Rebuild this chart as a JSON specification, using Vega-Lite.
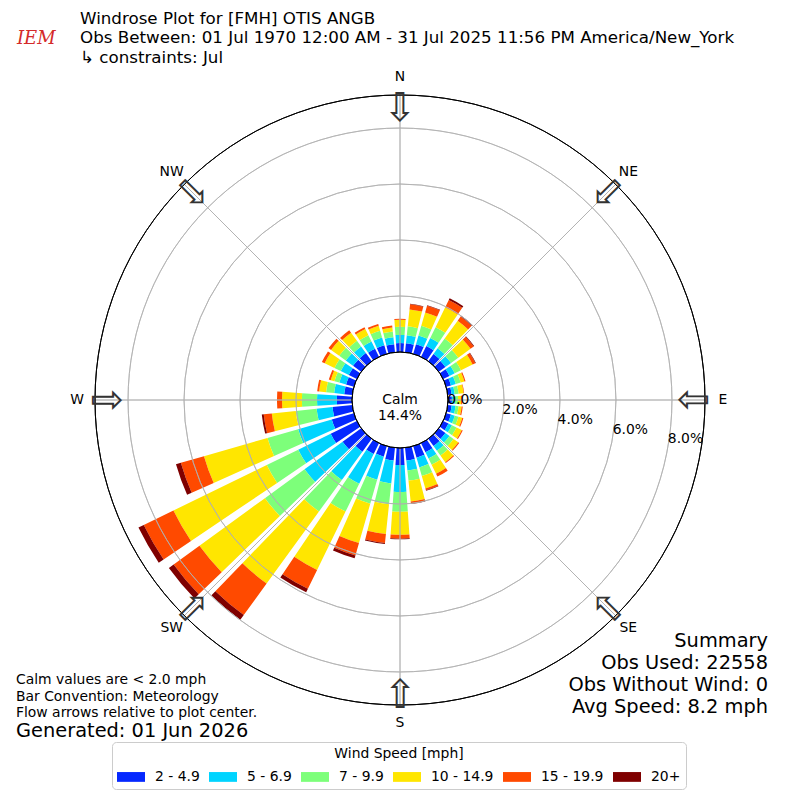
{
  "$schema": "https://vega.github.io/schema/vega-lite/v6.json",
  "width": 800,
  "height": 800,
  "autosize": "none",
  "padding": 0,
  "background": "white",
  "config": {"view": {"stroke": null}, "font": "DejaVu Sans"},
  "datasets": {
    "rose": [
      {"dir": 0, "s1": 0.32, "s2": 0.29, "s3": 0.29, "s4": 0.25, "s5": 0.04, "s6": 0},
      {"dir": 10, "s1": 0.32, "s2": 0.29, "s3": 0.32, "s4": 0.61, "s5": 0.18, "s6": 0.02},
      {"dir": 20, "s1": 0.36, "s2": 0.32, "s3": 0.36, "s4": 0.5, "s5": 0.25, "s6": 0.02},
      {"dir": 30, "s1": 0.43, "s2": 0.32, "s3": 0.43, "s4": 0.79, "s5": 0.29, "s6": 0.07},
      {"dir": 40, "s1": 0.32, "s2": 0.25, "s3": 0.43, "s4": 0.79, "s5": 0.18, "s6": 0.04},
      {"dir": 50, "s1": 0.29, "s2": 0.25, "s3": 0.32, "s4": 0.54, "s5": 0.14, "s6": 0.02},
      {"dir": 60, "s1": 0.25, "s2": 0.21, "s3": 0.25, "s4": 0.46, "s5": 0.11, "s6": 0.02},
      {"dir": 70, "s1": 0.18, "s2": 0.18, "s3": 0.18, "s4": 0.14, "s5": 0.04, "s6": 0},
      {"dir": 80, "s1": 0.14, "s2": 0.11, "s3": 0.14, "s4": 0.18, "s5": 0.02, "s6": 0},
      {"dir": 90, "s1": 0.14, "s2": 0.11, "s3": 0.11, "s4": 0.11, "s5": 0.04, "s6": 0},
      {"dir": 100, "s1": 0.14, "s2": 0.14, "s3": 0.11, "s4": 0.11, "s5": 0.04, "s6": 0},
      {"dir": 110, "s1": 0.18, "s2": 0.14, "s3": 0.14, "s4": 0.14, "s5": 0.04, "s6": 0},
      {"dir": 120, "s1": 0.21, "s2": 0.14, "s3": 0.18, "s4": 0.21, "s5": 0.04, "s6": 0},
      {"dir": 130, "s1": 0.29, "s2": 0.18, "s3": 0.18, "s4": 0.21, "s5": 0.04, "s6": 0},
      {"dir": 140, "s1": 0.32, "s2": 0.21, "s3": 0.21, "s4": 0.29, "s5": 0.04, "s6": 0},
      {"dir": 150, "s1": 0.36, "s2": 0.25, "s3": 0.25, "s4": 0.36, "s5": 0.11, "s6": 0},
      {"dir": 160, "s1": 0.43, "s2": 0.36, "s3": 0.32, "s4": 0.46, "s5": 0.07, "s6": 0.02},
      {"dir": 170, "s1": 0.46, "s2": 0.36, "s3": 0.36, "s4": 0.75, "s5": 0.07, "s6": 0.02},
      {"dir": 180, "s1": 0.61, "s2": 0.96, "s3": 0.71, "s4": 0.82, "s5": 0.14, "s6": 0.02},
      {"dir": 190, "s1": 0.46, "s2": 0.82, "s3": 0.75, "s4": 1.07, "s5": 0.32, "s6": 0.04},
      {"dir": 200, "s1": 0.39, "s2": 0.86, "s3": 0.89, "s4": 1.46, "s5": 0.46, "s6": 0.11},
      {"dir": 210, "s1": 0.43, "s2": 1.18, "s3": 1.11, "s4": 2.32, "s5": 0.75, "s6": 0.14},
      {"dir": 220, "s1": 0.57, "s2": 1.25, "s3": 1.39, "s4": 3.18, "s5": 1.39, "s6": 0.21},
      {"dir": 230, "s1": 0.82, "s2": 1.68, "s3": 1.75, "s4": 2.89, "s5": 1.14, "s6": 0.21},
      {"dir": 240, "s1": 1.04, "s2": 1.29, "s3": 1.25, "s4": 3.71, "s5": 1.18, "s6": 0.21},
      {"dir": 250, "s1": 0.82, "s2": 1.25, "s3": 1.14, "s4": 2.36, "s5": 0.86, "s6": 0.18},
      {"dir": 260, "s1": 0.71, "s2": 0.57, "s3": 0.75, "s4": 0.86, "s5": 0.29, "s6": 0.07},
      {"dir": 270, "s1": 0.54, "s2": 0.71, "s3": 0.54, "s4": 0.71, "s5": 0.18, "s6": 0},
      {"dir": 280, "s1": 0.29, "s2": 0.36, "s3": 0.29, "s4": 0.25, "s5": 0.07, "s6": 0},
      {"dir": 290, "s1": 0.29, "s2": 0.25, "s3": 0.18, "s4": 0.14, "s5": 0.07, "s6": 0},
      {"dir": 300, "s1": 0.32, "s2": 0.32, "s3": 0.25, "s4": 0.39, "s5": 0.11, "s6": 0},
      {"dir": 310, "s1": 0.36, "s2": 0.32, "s3": 0.29, "s4": 0.36, "s5": 0.11, "s6": 0},
      {"dir": 320, "s1": 0.36, "s2": 0.29, "s3": 0.25, "s4": 0.36, "s5": 0.11, "s6": 0},
      {"dir": 330, "s1": 0.32, "s2": 0.29, "s3": 0.25, "s4": 0.25, "s5": 0.07, "s6": 0},
      {"dir": 340, "s1": 0.32, "s2": 0.29, "s3": 0.25, "s4": 0.18, "s5": 0.07, "s6": 0},
      {"dir": 350, "s1": 0.29, "s2": 0.25, "s3": 0.21, "s4": 0.14, "s5": 0.07, "s6": 0}
    ],
    "bins": [
      {"bin": "s1", "speed": "2 - 4.9"},
      {"bin": "s2", "speed": "5 - 6.9"},
      {"bin": "s3", "speed": "7 - 9.9"},
      {"bin": "s4", "speed": "10 - 14.9"},
      {"bin": "s5", "speed": "15 - 19.9"},
      {"bin": "s6", "speed": "20+"}
    ],
    "compass": [
      {"a": 0, "lab": "N"}, {"a": 45, "lab": "NE"}, {"a": 90, "lab": "E"}, {"a": 135, "lab": "SE"},
      {"a": 180, "lab": "S"}, {"a": 225, "lab": "SW"}, {"a": 270, "lab": "W"}, {"a": 315, "lab": "NW"}
    ],
    "rings": [
      {"ring": 0, "lab": "0.0%"}, {"ring": 2, "lab": "2.0%"}, {"ring": 4, "lab": "4.0%"},
      {"ring": 6, "lab": "6.0%"}, {"ring": 8, "lab": "8.0%"}
    ]
  },
  "layer": [
    {
      "data": {"name": "rose"},
      "transform": [
        {"fold": ["s1", "s2", "s3", "s4", "s5", "s6"], "as": ["bin", "pct"]},
        {"lookup": "bin", "from": {"data": {"name": "bins"}, "key": "bin", "fields": ["speed"]}},
        {"stack": "pct", "groupby": ["dir"], "sort": [{"field": "bin"}], "as": ["lo", "hi"]},
        {"calculate": "datum.dir - 4", "as": "a0"},
        {"calculate": "datum.dir + 4", "as": "a1"}
      ],
      "mark": {"type": "arc"},
      "encoding": {
        "theta": {"field": "a0", "type": "quantitative", "scale": {"type": "linear", "domain": [0, 360], "range": [0, 6.283185307179586], "zero": false}},
        "theta2": {"field": "a1"},
        "radius": {"field": "lo", "type": "quantitative", "scale": {"type": "linear", "domain": [0, 9.18], "range": [48, 305], "zero": false}},
        "radius2": {"field": "hi"},
        "color": {
          "field": "speed",
          "type": "nominal",
          "scale": {
            "domain": ["2 - 4.9", "5 - 6.9", "7 - 9.9", "10 - 14.9", "15 - 19.9", "20+"],
            "range": ["#0528ff", "#00d4ff", "#7dff7a", "#ffe600", "#ff4a00", "#7f0000"]
          },
          "legend": {
            "title": "Wind Speed [mph]",
            "orient": "none",
            "legendX": 112,
            "legendY": 742,
            "direction": "horizontal",
            "columns": 6,
            "titleAnchor": "middle",
            "titleFontSize": 13.9,
            "titleFontWeight": "normal",
            "titleColor": "black",
            "titlePadding": 2,
            "labelFontSize": 13.9,
            "labelColor": "black",
            "labelOffset": 10,
            "labelLimit": 200,
            "columnPadding": 9,
            "padding": 5,
            "symbolType": "M-1,-0.35L1,-0.35L1,0.35L-1,0.35Z",
            "symbolSize": 784,
            "symbolStrokeWidth": 0,
            "symbolOpacity": 1,
            "strokeColor": "#cccccc",
            "fillColor": "white",
            "cornerRadius": 4
          }
        }
      }
    },
    {
      "data": {"name": "rings"},
      "transform": [{"filter": "datum.ring > 0"}],
      "mark": {"type": "arc", "theta": 0, "theta2": 6.2832, "fillOpacity": 0, "stroke": "#b0b0b0", "strokeWidth": 0.8},
      "encoding": {
        "radius": {"field": "ring", "type": "quantitative", "scale": {"type": "linear", "domain": [0, 9.18], "range": [48, 305], "zero": false}},
        "radius2": {"field": "ring"}
      }
    },
    {
      "data": {"name": "compass"},
      "mark": {"type": "arc", "fillOpacity": 0, "stroke": "#b0b0b0", "strokeWidth": 0.8},
      "encoding": {
        "theta": {"field": "a", "type": "quantitative", "scale": {"type": "linear", "domain": [0, 360], "range": [0, 6.283185307179586], "zero": false}},
        "theta2": {"field": "a"},
        "radius": {"datum": 0, "type": "quantitative", "scale": {"type": "linear", "domain": [0, 9.18], "range": [48, 305], "zero": false}},
        "radius2": {"datum": 9.18}
      }
    },
    {
      "data": {"values": [{}]},
      "mark": {"type": "arc", "theta": 0, "theta2": 6.2832, "fillOpacity": 0, "stroke": "black", "strokeWidth": 1},
      "encoding": {
        "radius": {"datum": 9.18, "type": "quantitative", "scale": {"type": "linear", "domain": [0, 9.18], "range": [48, 305], "zero": false}},
        "radius2": {"datum": 9.18}
      }
    },
    {
      "data": {"values": [{}]},
      "mark": {"type": "arc", "theta": 0, "theta2": 6.2832, "fill": "white", "stroke": "black", "strokeWidth": 1},
      "encoding": {
        "radius": {"datum": 0, "type": "quantitative", "scale": {"type": "linear", "domain": [0, 9.18], "range": [48, 305], "zero": false}}
      }
    },
    {
      "data": {"values": [{}]},
      "mark": {"type": "text", "x": 400, "y": 400, "text": ["Calm", "14.4%"], "fontSize": 13.9, "lineHeight": 15.5, "align": "center", "baseline": "middle", "color": "black"}
    },
    {
      "data": {"name": "rings"},
      "mark": {"type": "text", "fontSize": 13.9, "align": "left", "baseline": "middle", "dy": -8, "color": "black"},
      "encoding": {
        "theta": {"datum": 100, "type": "quantitative", "scale": {"type": "linear", "domain": [0, 360], "range": [0, 6.283185307179586], "zero": false}},
        "radius": {"field": "ring", "type": "quantitative", "scale": {"type": "linear", "domain": [0, 9.18], "range": [48, 305], "zero": false}},
        "text": {"field": "lab"}
      }
    },
    {
      "data": {"name": "compass"},
      "mark": {"type": "text", "fontSize": 13.9, "align": "center", "baseline": "middle", "color": "black"},
      "encoding": {
        "theta": {"field": "a", "type": "quantitative", "scale": {"type": "linear", "domain": [0, 360], "range": [0, 6.283185307179586], "zero": false}},
        "radius": {"datum": 9.82, "type": "quantitative", "scale": {"type": "linear", "domain": [0, 9.18], "range": [48, 305], "zero": false}},
        "text": {"field": "lab"}
      }
    },
    {
      "data": {"name": "compass"},
      "mark": {"type": "text", "text": "⇩", "fontSize": 40, "align": "center", "baseline": "middle", "color": "#333333"},
      "encoding": {
        "theta": {"field": "a", "type": "quantitative", "scale": {"type": "linear", "domain": [0, 360], "range": [0, 6.283185307179586], "zero": false}},
        "radius": {"datum": 8.68, "type": "quantitative", "scale": {"type": "linear", "domain": [0, 9.18], "range": [48, 305], "zero": false}},
        "angle": {"field": "a", "type": "quantitative", "scale": {"domain": [0, 360], "range": [0, 360]}}
      }
    },
    {
      "data": {"values": [{}]},
      "mark": {
        "type": "text", "x": 80, "y": 24, "align": "left", "baseline": "alphabetic",
        "fontSize": 16.7, "lineHeight": 19.3, "color": "black",
        "text": ["Windrose Plot for [FMH] OTIS ANGB", "Obs Between: 01 Jul 1970 12:00 AM - 31 Jul 2025 11:56 PM America/New_York", "\u00a0↳ constraints: Jul"]
      }
    },
    {
      "data": {"values": [{}]},
      "mark": {"type": "text", "x": 17, "y": 43.5, "align": "left", "baseline": "alphabetic", "font": "DejaVu Serif", "fontStyle": "italic", "fontSize": 18, "color": "#d42a2a", "text": "IEM"}
    },
    {
      "data": {"values": [{}]},
      "mark": {
        "type": "text", "x": 16, "y": 684, "align": "left", "baseline": "alphabetic",
        "fontSize": 13.9, "lineHeight": 16.5, "color": "black",
        "text": ["Calm values are < 2.0 mph", "Bar Convention: Meteorology", "Flow arrows relative to plot center."]
      }
    },
    {
      "data": {"values": [{}]},
      "mark": {"type": "text", "x": 16, "y": 737, "align": "left", "baseline": "alphabetic", "fontSize": 19.4, "color": "black", "text": "Generated: 01 Jun 2026"}
    },
    {
      "data": {"values": [{}]},
      "mark": {
        "type": "text", "x": 768, "y": 647, "align": "right", "baseline": "alphabetic",
        "fontSize": 19.4, "lineHeight": 22, "color": "black",
        "text": ["Summary", "Obs Used: 22558", "Obs Without Wind: 0", "Avg Speed: 8.2 mph"]
      }
    }
  ]
}
